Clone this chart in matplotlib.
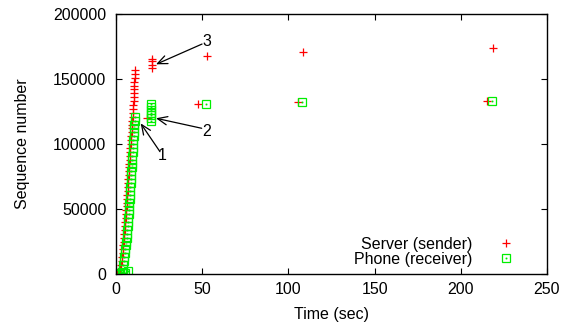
import matplotlib
matplotlib.use("Agg")
import matplotlib.pyplot as plt

plt.rcParams['font.family'] = ['Liberation Sans', 'DejaVu Sans']

# Server (sender) - red crosses
server_t = [0.3, 1.0, 1.8, 2.5, 3.0, 3.3, 3.6, 3.9, 4.1, 4.3, 4.5, 4.7, 4.9, 5.1,
            5.3, 5.5, 5.7, 5.9, 6.0, 6.2, 6.3, 6.5, 6.6, 6.8, 6.9, 7.1, 7.2, 7.4,
            7.5, 7.7, 7.8, 8.0, 8.1, 8.3, 8.4, 8.6, 8.7, 8.9, 9.0, 9.2, 9.3, 9.5,
            9.6, 9.8, 9.9, 10.1, 10.2, 10.3, 10.4, 10.5, 10.6, 10.7, 10.8, 10.9, 11.0,
            17.8, 21.0, 21.0, 21.0, 21.0,
            47.4, 52.5, 105.8, 108.5, 215.0, 218.5]
server_seq = [0, 500, 1500, 4000, 7000, 10000, 13000, 16000, 19000, 22000, 25000,
              28000, 31000, 34000, 37000, 40000, 43000, 46000, 49000, 52000, 55000,
              58000, 61000, 64000, 67000, 70000, 73000, 76000, 79000, 82000, 85000,
              88000, 91000, 94000, 97000, 100000, 103000, 106000, 109000, 112000,
              115000, 118000, 121000, 124000, 127000, 130000, 133000, 136000,
              139000, 142000, 145000, 148000, 151000, 154000, 157000,
              120000, 158500, 161000, 163500, 165500,
              130800, 167900, 132000, 170500, 133300, 173600]

# Phone (receiver) - green squares
phone_t = [0.5, 1.5, 2.5, 3.5, 5.5, 7.0, 4.0, 4.3, 4.6, 4.9, 5.2, 5.5, 5.8, 6.0,
           6.2, 6.4, 6.6, 6.8, 7.0, 7.1, 7.3, 7.4, 7.6, 7.7, 7.9, 8.0, 8.2, 8.3,
           8.5, 8.6, 8.8, 8.9, 9.1, 9.2, 9.4, 9.5, 9.7, 9.8, 10.0, 10.1, 10.3,
           10.4, 10.6, 10.7, 10.9, 11.0,
           20.5, 20.5, 20.5, 20.5, 20.5, 20.5, 20.5,
           52.0, 108.0, 218.0]
phone_seq = [0, 300, 700, 1500, 1000, 2000, 4000, 7000, 10000, 13000, 16000, 19000,
             22000, 25000, 28000, 31000, 34000, 37000, 40000, 43000, 46000, 49000,
             52000, 55000, 58000, 61000, 64000, 67000, 70000, 73000, 76000, 79000,
             82000, 85000, 88000, 91000, 94000, 97000, 100000, 103000, 106000,
             109000, 112000, 115000, 118000, 120500,
             118000, 120000, 122000, 124000, 126000, 128500, 131000,
             130800, 132000, 133300]

red = '#ff0000'
green = '#00ee00'

fig = plt.figure(figsize=(5.67, 3.28), dpi=100)
ax = fig.add_axes([0.2046, 0.1646, 0.7601, 0.7927])

h1, = ax.plot(server_t, server_seq, linestyle='none', marker='+', color=red,
              markersize=6, markeredgewidth=0.9)
h2, = ax.plot(phone_t, phone_seq, linestyle='none', marker='s', color=green,
              markerfacecolor='none', markersize=5.5, markeredgewidth=0.9)
h3, = ax.plot(phone_t, phone_seq, linestyle='none', marker='s', color=green,
              markersize=0.8, markeredgewidth=0.5)

ax.set_xlim(0, 250)
ax.set_ylim(0, 200000)
ax.set_xticks([0, 50, 100, 150, 200, 250])
ax.set_yticks([0, 50000, 100000, 150000, 200000])
ax.tick_params(direction='in', length=4.5, width=0.8, top=True, right=True,
               labelsize=11.5, color='black')
ax.tick_params(axis='y', pad=7)
ax.tick_params(axis='x', pad=6)
for s in ax.spines.values():
    s.set_linewidth(1.0)

ax.set_xlabel('Time (sec)', fontsize=11.5)
ax.set_ylabel('Sequence number', fontsize=11.5)
ax.xaxis.set_label_coords(0.5, -0.125)
ax.yaxis.set_label_coords(-0.2, 0.5)

arrow = dict(arrowstyle='->,head_length=0.7,head_width=0.3', color='black', lw=0.9,
             shrinkA=0, shrinkB=0)
ax.annotate('', xy=(23.2, 161300), xytext=(49.9, 176900), arrowprops=arrow)
ax.annotate('', xy=(23.2, 119800), xytext=(49.7, 112100), arrowprops=arrow)
ax.annotate('', xy=(14.3, 115900), xytext=(25.5, 94100), arrowprops=arrow)
ax.text(52.6, 178700, '3', fontsize=11.5, ha='center', va='center')
ax.text(52.6, 109500, '2', fontsize=11.5, ha='center', va='center')
ax.text(26.9, 90800, '1', fontsize=11.5, ha='center', va='center')

ax.legend([h1, (h2, h3)], ['Server (sender)', 'Phone (receiver)'],
          loc='lower right', bbox_to_anchor=(0.9227, 0.028), frameon=False,
          markerfirst=False, handlelength=1.0, handletextpad=1.6,
          borderpad=0, borderaxespad=0, labelspacing=0.0, fontsize=11.5)

fig.savefig('out.png', dpi=100)
